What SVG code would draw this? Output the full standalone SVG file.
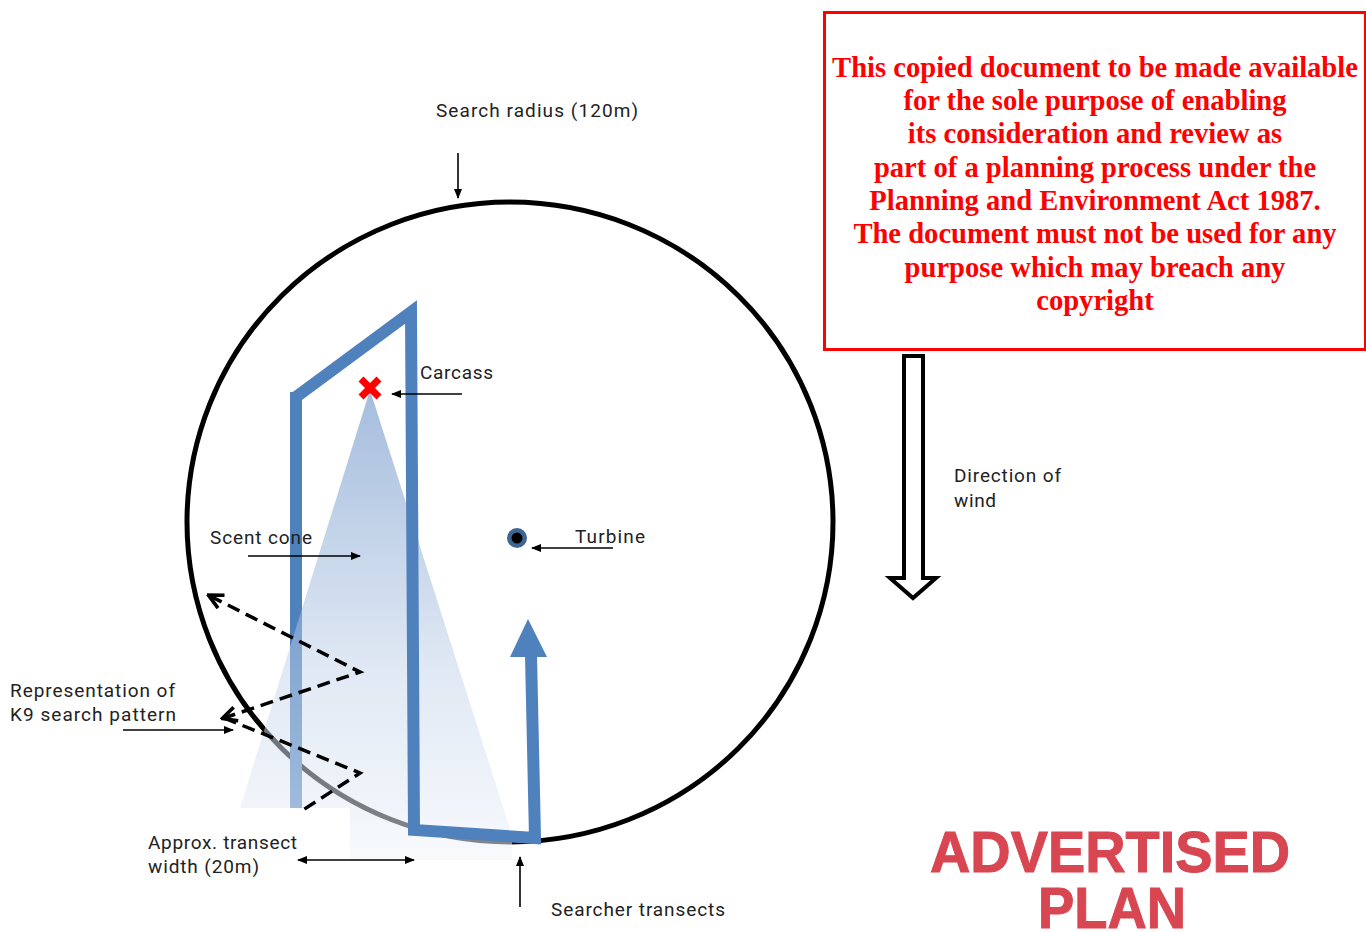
<svg xmlns="http://www.w3.org/2000/svg" width="1366" height="932" viewBox="0 0 1366 932">
  <defs>
    <linearGradient id="cone" x1="0" y1="390" x2="0" y2="860" gradientUnits="userSpaceOnUse">
      <stop offset="0" stop-color="#4a7bbb" stop-opacity="0.5"/>
      <stop offset="0.6" stop-color="#c3d3ea" stop-opacity="0.5"/>
      <stop offset="1" stop-color="#f2f6fb" stop-opacity="0.55"/>
    </linearGradient>
    <marker id="ah" viewBox="0 0 10 10" refX="9" refY="5" markerWidth="10" markerHeight="10" markerUnits="userSpaceOnUse" orient="auto-start-reverse">
      <path d="M0,1 L10,5 L0,9 z" fill="#000"/>
    </marker>
    <marker id="dh" viewBox="0 0 10 10" refX="8" refY="5" markerWidth="18" markerHeight="18" markerUnits="userSpaceOnUse" orient="auto-start-reverse">
      <path d="M1,1 L9,5 L1,9" fill="none" stroke="#000" stroke-width="2"/>
    </marker>
  </defs>
  <style>
    .lbl { font-family: Roboto, "Liberation Sans", sans-serif; font-size: 19px; fill: #222; }
    .ptr { stroke: #000; stroke-width: 1.6; fill: none; marker-end: url(#ah); }
    .blue { stroke: #4f81bd; stroke-width: 12; fill: none; stroke-linejoin: miter; }
    .dash { stroke: #000; stroke-width: 3.5; fill: none; stroke-dasharray: 13 7; }
    .notice { font-family: "Liberation Serif", "Times New Roman", serif; font-weight: bold; font-size: 28.6px; fill: #ff0000; text-anchor: middle; }
    .stamp { font-family: "Liberation Sans", Arial, sans-serif; font-weight: bold; fill: #d84652; stroke: #d84652; stroke-width: 1; }
  </style>
  <rect width="1366" height="932" fill="#fff"/>

  <g id="search-circle">
    <ellipse cx="510" cy="522" rx="323" ry="320" fill="none" stroke="#000" stroke-width="5"/>
  </g>

  <g id="transect-left">
    <path class="blue" d="M296,808 L296,392"/>
  </g>

  <g id="scent-cone">
    <polygon points="370,390 240,808 350,808 350,860 512,860 512,835" fill="url(#cone)"/>
  </g>

  <g id="searcher-transects">
    <path class="blue" d="M296,397 L411,312 L414,830 L535,838 L531,655"/>
    <polygon points="510,657 528,619 547,657" fill="#4f81bd"/>
  </g>

  <g id="carcass">
    <path d="M361,379 L379,397 M379,379 L361,397" stroke="#ff0000" stroke-width="7" stroke-linecap="butt"/>
  </g>

  <g id="turbine">
    <circle cx="517" cy="538" r="10" fill="#3f6593"/>
    <circle cx="517" cy="538" r="5.5" fill="#000"/>
  </g>

  <g id="k9-pattern">
    <path class="dash" d="M210,596 L360,672 L224,718" marker-start="url(#dh)" marker-end="url(#dh)"/>
    <path class="dash" d="M224,718 L360,773 L300,812"/>
  </g>

  <g id="wind-arrow">
    <path d="M904,356 L923,356 L923,578 L936,578 L913,598 L890,578 L904,578 Z" fill="#fff" stroke="#000" stroke-width="4" stroke-linejoin="miter"/>
  </g>

  <g id="connectors">
    <line class="ptr" x1="458" y1="153" x2="458" y2="198"/>
    <line class="ptr" x1="462" y1="394" x2="392" y2="394"/>
    <line class="ptr" x1="248" y1="556" x2="360" y2="556"/>
    <line class="ptr" x1="613" y1="548" x2="532" y2="548"/>
    <line class="ptr" x1="123" y1="730" x2="233" y2="730"/>
    <line class="ptr" x1="298" y1="860" x2="414" y2="860" marker-start="url(#ah)"/>
    <line class="ptr" x1="520" y1="907" x2="520" y2="857"/>
  </g>

  <g id="labels">
    <text class="lbl" x="436" y="117" textLength="202">Search radius (120m)</text>
    <text class="lbl" x="420" y="379" textLength="73">Carcass</text>
    <text class="lbl" x="210" y="544" textLength="102">Scent cone</text>
    <text class="lbl" x="575" y="543" textLength="70">Turbine</text>
    <text class="lbl" x="954" y="482" textLength="107">Direction of</text>
    <text class="lbl" x="954" y="507" textLength="42">wind</text>
    <text class="lbl" x="10" y="697" textLength="165">Representation of</text>
    <text class="lbl" x="10" y="721" textLength="166">K9 search pattern</text>
    <text class="lbl" x="148" y="849" textLength="149">Approx. transect</text>
    <text class="lbl" x="148" y="873" textLength="111">width (20m)</text>
    <text class="lbl" x="551" y="916" textLength="174">Searcher transects</text>
  </g>

  <g id="notice">
    <rect x="824.5" y="12.5" width="541" height="337" fill="none" stroke="#ff0000" stroke-width="3"/>
    <text class="notice" x="1095" y="77">This copied document to be made available</text>
    <text class="notice" x="1095" y="110">for the sole purpose of enabling</text>
    <text class="notice" x="1095" y="143">its consideration and review as</text>
    <text class="notice" x="1095" y="177">part of a planning process under the</text>
    <text class="notice" x="1095" y="210">Planning and Environment Act 1987.</text>
    <text class="notice" x="1095" y="243">The document must not be used for any</text>
    <text class="notice" x="1095" y="277">purpose which may breach any</text>
    <text class="notice" x="1095" y="310">copyright</text>
  </g>

  <g id="stamp">
    <text class="stamp" x="930" y="872" font-size="58" textLength="360" lengthAdjust="spacingAndGlyphs">ADVERTISED</text>
    <text class="stamp" x="1038" y="928" font-size="58" textLength="148" lengthAdjust="spacingAndGlyphs">PLAN</text>
  </g>
</svg>
